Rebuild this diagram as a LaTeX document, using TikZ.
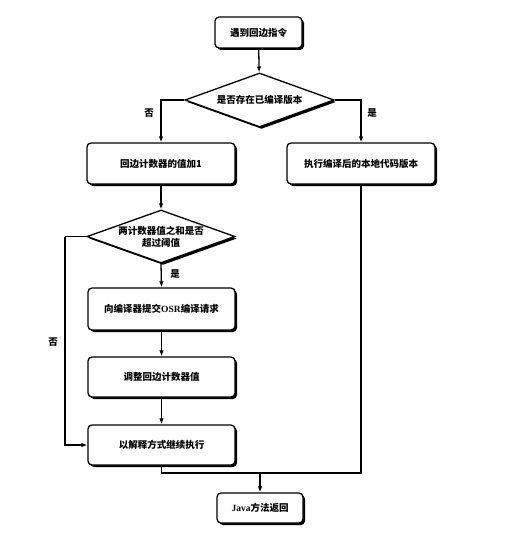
\documentclass[tikz,border=0pt]{standalone}
\usepackage{fontspec}
\setmainfont{Liberation Serif}
\newfontfamily\cjk{Noto Sans CJK SC}
\usetikzlibrary{shapes.geometric,shadows,arrows.meta}
\begin{document}
\begin{tikzpicture}[x=1pt,y=-1pt,
  font=\cjk\fontsize{9.5}{12}\selectfont\bfseries,
  box/.style={draw=black,line width=1.3pt,rounded corners=4pt,fill=white,
    inner sep=0pt,align=center,
    drop shadow={shadow xshift=2pt,shadow yshift=-2pt,opacity=1,fill=black}},
  dia/.style={diamond,draw=black,line width=1.3pt,fill=white,inner sep=0pt,
    align=center,
    drop shadow={shadow xshift=2pt,shadow yshift=-2pt,opacity=1,fill=black}},
  arr/.style={line width=1.3pt,-{Latex[length=6pt,width=4.5pt]}},
  ln/.style={line width=1.3pt},
  lab/.style={inner sep=0pt}]
\useasboundingbox[fill=white] (0,0) rectangle (523,535);

\node[box,minimum width=87pt,minimum height=31pt] (n1) at (258.5,32.5) {遇到回边指令};
\node[dia,minimum width=149pt,minimum height=54pt,shape aspect=2.76] (d1) at (259.5,100) {是否存在已编译版本};
\node[box,minimum width=148pt,minimum height=41pt] (n2) at (161,163.5) {回边计数器的值加1};
\node[box,minimum width=148pt,minimum height=41pt] (n3) at (361,163.5) {执行编译后的本地代码版本};
\node[dia,minimum width=148pt,minimum height=53pt,shape aspect=2.8] (d2) at (161,236.5) {两计数器值之和是否\\超过阈值};
\node[box,minimum width=147pt,minimum height=42pt] (n4) at (161.5,309) {向编译器提交{\rmfamily\bfseries OSR}编译请求};
\node[box,minimum width=147pt,minimum height=40pt] (n5) at (161.5,377) {调整回边计数器值};
\node[box,minimum width=147pt,minimum height=40pt] (n6) at (161.5,445) {以解释方式继续执行};
\node[box,minimum width=86pt,minimum height=30pt] (n7) at (260,508) {{\rmfamily\bfseries Java}方法返回};

\coordinate (l) at (65,236.5);
\coordinate (jl) at (161.5,473);
\coordinate (jm) at (260,473);

\draw[arr] (n1) -- (d1);
\draw[arr] (d1.west) -| (n2.north);
\draw[arr] (d1.east) -| (n3.north);
\draw[arr] (n2) -- (d2);
\draw[arr] (d2.south) -- (n4.north);
\draw[arr] (n4) -- (n5);
\draw[arr] (n5) -- (n6);
\draw[ln] (d2.west) -- (l);
\draw[arr] (l) |- (n6.west);
\draw[ln] (n6.south) -- (jl) -| (n3.south);
\draw[arr] (jm) -- (n7.north);

\node[lab] (l1) at (149,113) {否};
\node[lab] (l2) at (372,113) {是};
\node[lab] (l3) at (175,274) {是};
\node[lab] (l4) at (53,342) {否};
\end{tikzpicture}
\end{document}
